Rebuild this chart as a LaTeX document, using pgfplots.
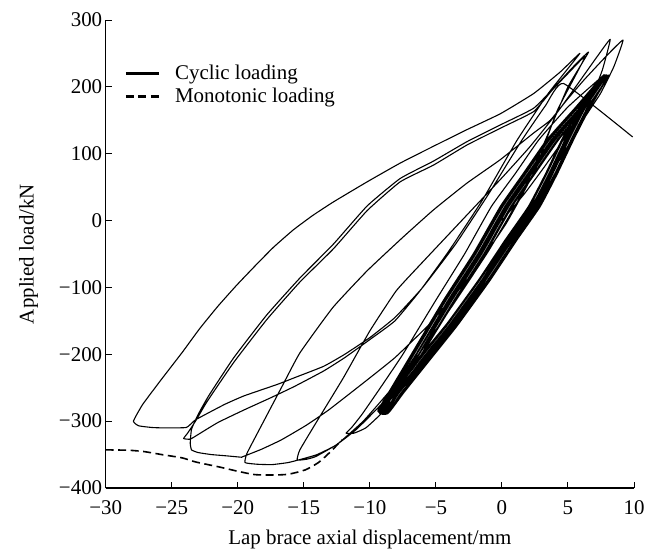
\documentclass[border=0pt]{standalone}
\usepackage{fontspec}
\setmainfont{Liberation Serif}
\usepackage{pgfplots}
\pgfplotsset{compat=1.18}
\begin{document}
\begin{tikzpicture}
\useasboundingbox (-105.7bp,-67bp) rectangle (558.3bp,488bp);
\begin{axis}[
  at={(0,0)}, anchor=south west,
  scale only axis, width=528.3bp, height=468bp,
  xmin=-30, xmax=10, ymin=-400, ymax=300,
  axis lines=left, axis line style={-, line width=1.1bp},
  xtick={-30,-25,...,10}, ytick={-400,-300,...,300},
  xticklabels={−30,−25,−20,−15,−10,−5,0,5,10},
  yticklabels={−400,−300,−200,−100,0,100,200,300},
  tick align=inside, major tick length=6bp, tick style={line width=1bp, black},
  ticklabel style={font=\fontsize{21}{25}\selectfont},
  xticklabel style={yshift=-9bp},
  label style={font=\fontsize{21}{25}\selectfont},
  xlabel={Lap brace axial displacement/mm},
  ylabel={Applied load/kN},
  xlabel style={yshift=-9bp},
  ylabel style={yshift=14bp},
  legend style={at={(rel axis cs:0.03,0.912)}, anchor=north west, draw=none, fill=none,
    font=\fontsize{21}{25}\selectfont, row sep=3bp, column sep=13bp},
  legend cell align=left,
  legend image code/.code={\draw[#1,line width=2.4bp] (0bp,0bp) -- (33bp,0bp);},
]
\addplot[black, line width=1.1bp, line join=round, smooth, tension=0.25] coordinates {
(0,0) (1.7,40) (3.2,80) (4.8,125) (6.2,170) (7.7,215)
(6.3,170) (4.3,121) (2.5,70) (0.77,21) (-1.25,-49) (-3.52,-119) (-6.15,-203) (-7.9,-253) (-9.1,-286)
(-9.0,-287) (-8.2,-258) (-6.33,-208) (-4.31,-158) (-1.78,-89) (0.24,-29) (2.0,21) (3.3,70) (4.53,121) (5.9,170) (7.6,215)
(7.7,217) (6.0,170) (3.85,121) (2.05,70) (0.32,21) (-1.7,-49) (-3.97,-119) (-6.55,-203) (-8.2,-253) (-9.25,-286)
(-8.8,-288) (-7.85,-258) (-5.88,-208) (-3.86,-158) (-1.33,-89) (0.69,-29) (2.45,21) (3.75,70) (4.98,121) (6.3,170) (7.8,214)
(7.6,216) (5.6,170) (3.4,121) (1.6,70) (-0.13,21) (-2.15,-49) (-4.42,-119) (-6.95,-203) (-8.46,-253) (-9.4,-285)
(-8.6,-288) (-7.45,-258) (-5.43,-208) (-3.41,-158) (-0.88,-89) (1.14,-29) (2.9,21) (4.2,70) (5.43,121) (6.7,170) (8.0,214)
(7.9,215) (5.8,170) (3.6,121) (1.8,70) (0.07,21) (-1.95,-49) (-4.22,-119) (-6.75,-203) (-8.3,-253) (-9.3,-287)
(-8.7,-289) (-7.65,-258) (-5.63,-208) (-3.61,-158) (-1.08,-89) (0.94,-29) (2.7,21) (4.0,70) (5.23,121) (6.5,170) (8.1,216)
(7.8,214) (6.15,170) (4.05,121) (2.25,70) (0.52,21) (-1.5,-49) (-3.77,-119) (-6.35,-203) (-8.0,-253) (-9.2,-287)
(-8.85,-288) (-8.0,-258) (-6.08,-208) (-4.06,-158) (-1.53,-89) (0.49,-29) (2.25,21) (3.55,70) (4.78,121) (6.1,170) (7.7,216)
(7.6,215) (5.7,170) (3.5,121) (1.7,70) (-0.03,21) (-2.05,-49) (-4.32,-119) (-6.85,-203) (-8.4,-253) (-9.35,-286)
(-8.65,-289) (-7.55,-258) (-5.53,-208) (-3.51,-158) (-0.98,-89) (1.04,-29) (2.8,21) (4.1,70) (5.33,121) (6.6,170) (8.0,215)
(7.7,216) (5.95,170) (3.75,121) (1.95,70) (0.22,21) (-1.8,-49) (-4.07,-119) (-6.6,-203) (-8.25,-253) (-9.3,-286)
(-8.8,-289) (-7.8,-258) (-5.78,-208) (-3.76,-158) (-1.23,-89) (0.79,-29) (2.55,21) (3.85,70) (5.08,121) (6.35,170) (7.9,215)
(7.7,215) (6.15,170) (3.95,121) (2.15,70) (0.42,21) (-1.6,-49) (-3.87,-119) (-6.4,-203) (-8.1,-253) (-9.2,-286)
(-8.9,-288) (-7.95,-258) (-5.98,-208) (-3.96,-158) (-1.43,-89) (0.59,-29) (2.35,21) (3.65,70) (4.88,121) (6.2,170) (7.8,215)
(7.8,215) (6.3,170) (4.2,121) (2.4,70) (0.67,21) (-1.35,-49) (-3.62,-119) (-6.2,-203) (-7.95,-253) (-9.1,-286)
(-9.0,-288) (-8.15,-258) (-6.23,-208) (-4.21,-158) (-1.68,-89) (0.34,-29) (2.1,21) (3.4,70) (4.63,121) (6.0,170) (7.7,215)
(7.5,214) (5.0,170) (2.8,121) (1.0,70) (-0.8,21) (-2.8,-49) (-5.0,-119) (-7.5,-200) (-9.2,-250) (-10.6,-290) (-11.4,-310) (-11.8,-318)
(-11.2,-318) (-10.3,-310) (-9.2,-290) (-8.0,-262) (-6.0,-215) (-4.0,-165) (-1.6,-100) (0.6,-35) (2.5,18) (4.0,70) (5.4,125) (6.7,180) (7.6,225) (8.2,271)
(7.2,245) (6.3,220) (4.2,162) (2.1,110) (0,64) (-2,22) (-4,-20) (-6,-62) (-8,-105) (-10,-165) (-12,-235) (-14,-300) (-15.3,-343) (-15.5,-358)
(-14.8,-357) (-14.1,-353) (-12.5,-335) (-11,-312) (-9,-272) (-6.5,-210) (-4,-150) (-1,-70) (2,15) (4.5,95) (6.3,155) (7.46,190) (8.47,230) (9.17,270)
(7.9,246) (6.2,210) (4.9,180) (3.66,150) (2.4,131) (-0.13,91) (-2.65,56) (-5.18,16) (-7.5,-25) (-10.2,-75) (-12.8,-130) (-15.3,-198) (-16.7,-250) (-18.3,-310) (-19.3,-348) (-19.45,-362)
(-18.5,-364.5) (-17.4,-365) (-16.2,-362) (-15.2,-357) (-14,-350) (-12.5,-335) (-10.5,-300) (-8.5,-255) (-6,-192) (-3.5,-120) (-1,-45) (1.5,40) (3.5,130) (5,200) (6.56,252)
(5.3,228) (4.0,200) (2.4,168) (-0.13,143) (-2.65,118) (-5.18,89) (-7.7,63) (-10.2,22) (-12.75,-35) (-15.3,-86) (-17.8,-141) (-20.3,-205) (-22.2,-262) (-23,-290) (-23.5,-312) (-23.6,-333) (-23.5,-343) (-23,-347) (-22,-350) (-20.8,-352) (-19.7,-354)
(-19.6,-353) (-18.2,-342) (-16.7,-328) (-14.8,-306) (-13.1,-283) (-10.5,-243) (-8.1,-205) (-5.5,-155) (-2.5,-85) (0.3,-5) (2.5,75) (4.2,165) (6.3,245)
(5.1,222) (3.8,195) (2.4,163) (-0.13,138) (-2.65,113) (-5.18,83) (-7.7,58) (-10.2,15) (-12.75,-42) (-15.3,-92) (-17.8,-148) (-20.3,-212) (-22.3,-270) (-23.2,-300) (-23.8,-318) (-24.1,-326) (-23.6,-327)
(-23,-320) (-21.5,-302) (-19.5,-283) (-17.5,-265) (-15.7,-248) (-13.5,-225) (-11.9,-205) (-10,-178) (-8.1,-150) (-6.2,-105) (-4,-45) (-1.5,30) (1.14,120) (3.5,190) (5.9,250)
(4.4,222) (2.4,190) (-0.1,160) (-2.65,136) (-5.2,111) (-7.7,86) (-10.2,58) (-12.75,28) (-14.3,8) (-15.8,-14) (-17.3,-40) (-18.7,-68) (-20.1,-97) (-21.5,-128) (-22.9,-162) (-24.2,-197) (-25.8,-238) (-27.2,-275) (-27.9,-300) (-27.5,-307) (-26.5,-309.5) (-25.8,-310) (-23.9,-309.5)
(-23.2,-298) (-21,-275) (-19.5,-262) (-17,-245) (-15.7,-235) (-13.5,-218) (-11.9,-200) (-10,-175) (-8.1,-145) (-6,-100) (-3.5,-35) (-1,40) (1.5,120) (3.3,172) (4.67,205)
(9.9,125)
};
\addlegendentry{Cyclic loading}
\addplot[black, line width=1.6bp, dash pattern=on 8bp off 4.5bp, smooth, tension=0.4] coordinates {
(-30,-343) (-28.3,-343.5) (-27.1,-345.5) (-25.76,-350) (-24.2,-355) (-23.2,-361) (-21.3,-369) (-20,-375) (-18.7,-380) (-17.4,-380.5) (-16.2,-379.5) (-14.9,-373) (-13.9,-362) (-13.1,-348) (-12.1,-328)
};
\addlegendentry{Monotonic loading}
\end{axis}
\end{tikzpicture}
\end{document}
